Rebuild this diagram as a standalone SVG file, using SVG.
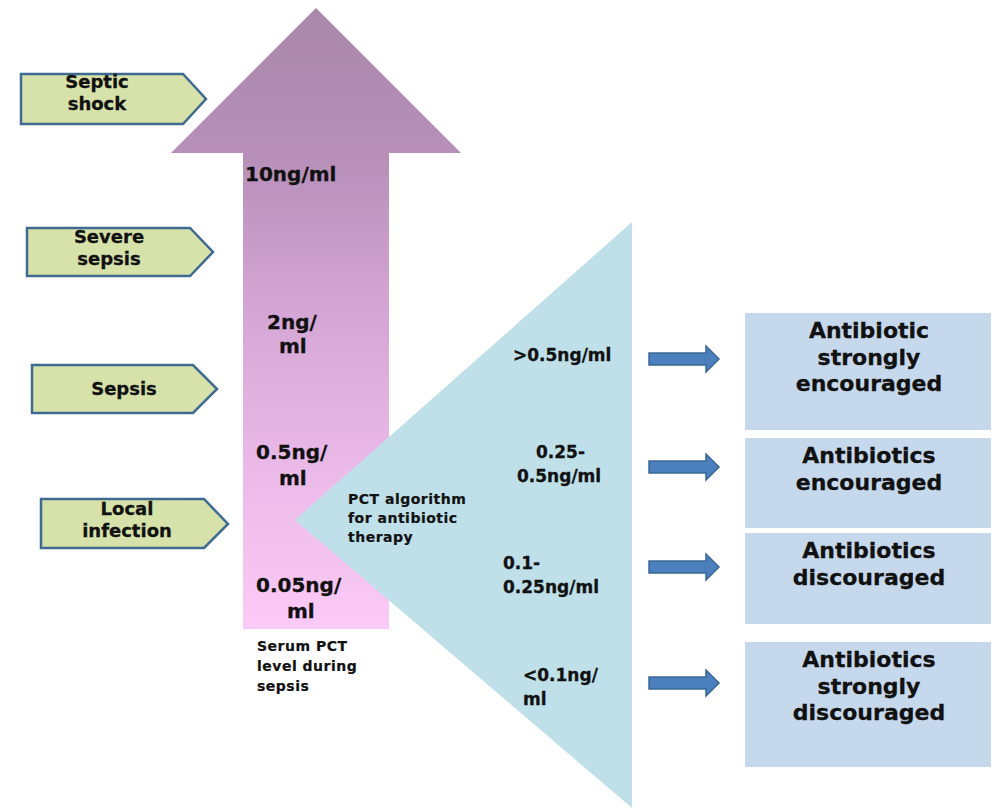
<svg xmlns="http://www.w3.org/2000/svg" width="992" height="808" viewBox="0 0 992 808">
<defs>
<linearGradient id="pinkGrad" x1="0" y1="8" x2="0" y2="630" gradientUnits="userSpaceOnUse">
<stop offset="0" stop-color="#a887a9"/>
<stop offset="0.25" stop-color="#b890ba"/>
<stop offset="0.5" stop-color="#d6a7d6"/>
<stop offset="0.75" stop-color="#ebbae8"/>
<stop offset="1" stop-color="#fbcaf6"/>
</linearGradient>
<style>
text{font-family:"DejaVu Sans","Liberation Sans",Arial,sans-serif;font-weight:bold;fill:#111;stroke:#111;stroke-width:0.3;}
.pent{fill:#d6e2a9;stroke:#3f6b92;stroke-width:2.5;}
.stage{font-size:18px;text-anchor:middle;}
.lvl{font-size:20px;}
.tri{font-size:17px;}
.small{font-size:14px;letter-spacing:0.5px;stroke-width:0.2;}
.box{fill:#c6d9ec;}
.rec{font-size:22px;text-anchor:middle;}
.arr{fill:#4b80be;stroke:#3a6896;stroke-width:1.5;}
</style>
</defs>

<g id="pct-arrow">
<polygon points="316,8 461,153 389,153 389,629 243,629 243,153 171,153" fill="url(#pinkGrad)"/>
<text class="lvl" x="245" y="181">10ng/ml</text>
<text class="lvl" x="267" y="329">2ng/</text>
<text class="lvl" x="279" y="353">ml</text>
<text class="lvl" x="256" y="459">0.5ng/</text>
<text class="lvl" x="279" y="485">ml</text>
<text class="lvl" x="256" y="592">0.05ng/</text>
<text class="lvl" x="287" y="618">ml</text>
</g>

<g id="serum-label">
<text class="small" x="257" y="651">Serum PCT</text>
<text class="small" x="257" y="671">level during</text>
<text class="small" x="257" y="691">sepsis</text>
</g>

<g id="septic-shock">
<polygon class="pent" points="21,74 183,74 206,99 183,124 21,124"/>
<text class="stage" x="97" y="88">Septic</text>
<text class="stage" x="97" y="110">shock</text>
</g>
<g id="severe-sepsis">
<polygon class="pent" points="27,228 190,228 213,252 190,276 27,276"/>
<text class="stage" x="109" y="243">Severe</text>
<text class="stage" x="109" y="265">sepsis</text>
</g>
<g id="sepsis">
<polygon class="pent" points="32,365 193,365 217,389 193,413 32,413"/>
<text class="stage" x="124" y="395">Sepsis</text>
</g>
<g id="local-infection">
<polygon class="pent" points="41,499 204,499 228,524 204,548 41,548"/>
<text class="stage" x="127" y="515">Local</text>
<text class="stage" x="127" y="537">infection</text>
</g>

<g id="pct-algorithm">
<polygon points="295,520 632,222 632,808" fill="#bfe0e9"/>
<text class="small" x="348" y="504">PCT algorithm</text>
<text class="small" x="348" y="523">for antibiotic</text>
<text class="small" x="348" y="542">therapy</text>
<text class="tri" x="513" y="361">&gt;0.5ng/ml</text>
<text class="tri" x="536" y="458">0.25-</text>
<text class="tri" x="517" y="482">0.5ng/ml</text>
<text class="tri" x="503" y="569">0.1-</text>
<text class="tri" x="503" y="593">0.25ng/ml</text>
<text class="tri" x="523" y="681">&lt;0.1ng/</text>
<text class="tri" x="523" y="705">ml</text>
</g>

<g id="connectors">
<polygon class="arr" points="649,353 706,353 706,346 719,359 706,372 706,365 649,365"/>
<polygon class="arr" points="649,461 706,461 706,454 719,467 706,480 706,473 649,473"/>
<polygon class="arr" points="649,561 706,561 706,554 719,567 706,580 706,573 649,573"/>
<polygon class="arr" points="649,677 706,677 706,670 719,683 706,696 706,689 649,689"/>
</g>

<g id="rec-strongly-encouraged">
<rect class="box" x="745" y="313" width="246" height="117"/>
<text class="rec" x="869" y="338">Antibiotic</text>
<text class="rec" x="869" y="365">strongly</text>
<text class="rec" x="869" y="391">encouraged</text>
</g>
<g id="rec-encouraged">
<rect class="box" x="745" y="438" width="246" height="90"/>
<text class="rec" x="869" y="463">Antibiotics</text>
<text class="rec" x="869" y="490">encouraged</text>
</g>
<g id="rec-discouraged">
<rect class="box" x="745" y="533" width="246" height="91"/>
<text class="rec" x="869" y="558">Antibiotics</text>
<text class="rec" x="869" y="585">discouraged</text>
</g>
<g id="rec-strongly-discouraged">
<rect class="box" x="745" y="642" width="246" height="125"/>
<text class="rec" x="869" y="667">Antibiotics</text>
<text class="rec" x="869" y="694">strongly</text>
<text class="rec" x="869" y="720">discouraged</text>
</g>
</svg>
